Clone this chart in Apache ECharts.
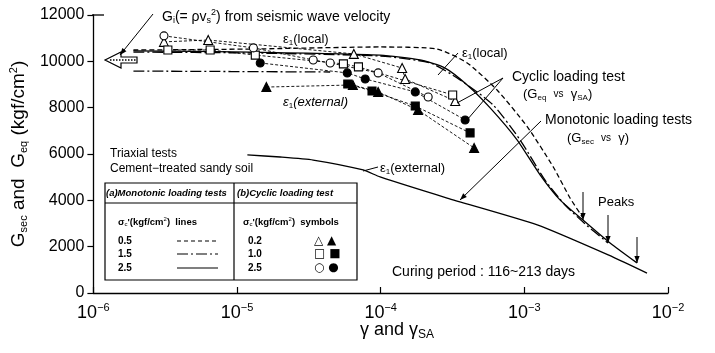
<!DOCTYPE html>
<html>
<head>
<meta charset="utf-8">
<script src="https://cdn.jsdelivr.net/npm/echarts@6/dist/echarts.min.js"></script>
<style>
html, body { margin: 0; background: #fff; }
#chart { width: 715px; height: 353px; }
</style>
</head>
<body>
<div id="chart"></div>
<script>
// monotonic loading tests, local strain (G_sec vs gamma), one per confining pressure
const monoLocal05 = [[1.9e-6, 10490], [1.24e-5, 10530], [9.9e-5, 10620], [2.47e-4, 10530], [4.0e-4, 9930], [6.46e-4, 8760], [1.05e-3, 7170], [1.59e-3, 5440], [2.08e-3, 4100], [2.56e-3, 3240]]
const monoLocal15 = [[1.9e-6, 10400], [1.24e-5, 10360], [9.9e-5, 10230], [2.21e-4, 9930], [3.57e-4, 9200], [6.06e-4, 8120], [9.34e-4, 6610], [1.39e-3, 4880], [1.92e-3, 3800], [2.65e-3, 2980], [3.82e-3, 2160]]
const monoLocal25 = [[1.9e-6, 10450], [1.24e-5, 10400], [9.9e-5, 10270], [1.88e-4, 10060], [2.81e-4, 9710], [4.0e-4, 8980], [5.78e-4, 7990], [8.9e-4, 6610], [1.29e-3, 5090], [1.77e-3, 4020], [2.56e-3, 3150], [3.95e-3, 2160], [6.08e-3, 1300]]
// monotonic, external strain
const monoExt15 = [[1.9e-6, 9580], [4.45e-5, 9540]]
const monoExt25 = [[1.18e-5, 5960], [2.0e-5, 5870], [3.39e-5, 5740], [7.55e-5, 5310], [9.9e-5, 5010], [2.9e-4, 4100], [1.23e-3, 2940], [4.15e-3, 1550], [7.14e-3, 860]]

// cyclic loading tests (G_eq vs gamma_SA); open = local, filled = external
const openTri = [[3.1e-6, 10840], [6.3e-6, 10920], [6.5e-5, 10320], [1.41e-4, 9710], [1.48e-4, 9240], [3.3e-4, 8290]]
const openSq = [[3.3e-6, 10490], [6.5e-6, 10490], [1.34e-5, 10270], [5.5e-5, 9890], [7.0e-5, 9760], [3.17e-4, 8550]]
const openCirc = [[3.1e-6, 11100], [1.3e-5, 10580], [3.39e-5, 10060], [4.45e-5, 9930], [9.6e-5, 9500], [2.14e-4, 8460]]
const filledTri = [[1.6e-5, 8890], [6.4e-5, 8980], [9.6e-5, 8680], [1.82e-4, 7900], [4.47e-4, 6260]]
const filledSq = [[5.9e-5, 9020], [8.7e-5, 8720], [1.74e-4, 8070], [4.19e-4, 6910]]
const filledCirc = [[1.45e-5, 9930], [5.85e-5, 9500], [7.8e-5, 9240], [1.74e-4, 8680], [3.87e-4, 7470]]

const legendLines = ['0.5', '1.5', '2.5']
const legendSymbols = ['0.2', '1.0', '2.5']

const FONT = '"Liberation Sans", Arial, sans-serif'
const DASH = [5, 3]
const DASHDOT = [11, 3, 2, 3]

const chart = echarts.init(document.getElementById('chart'))

const rich = (fs) => ({
  s: { fontSize: Math.round(fs * 0.65), padding: [Math.round(fs * 0.55), 0, 0, 0], fontFamily: FONT },
  p: { fontSize: Math.round(fs * 0.65), padding: [0, 0, Math.round(fs * 0.55), 0], fontFamily: FONT },
  v: { fontSize: Math.round(fs * 0.75), fontFamily: FONT }
})

const T = (x, y, text, fs, extra = {}) => ({
  type: 'text', x, y, z: 20,
  style: Object.assign({
    text, fill: '#000', fontFamily: FONT, fontSize: fs,
    verticalAlign: 'middle', align: 'left', rich: rich(fs)
  }, extra)
})

const L = (x1, y1, x2, y2, dash, w = 1) => ({
  type: 'line', z: 20,
  shape: { x1, y1, x2, y2 },
  style: { stroke: '#000', lineWidth: w, lineDash: dash || null }
})

// leader with a small head at (x2, y2)
const arrow = (x1, y1, x2, y2) => {
  const a = Math.atan2(y2 - y1, x2 - x1), len = 7, w = 2.6
  const c = Math.cos(a), s = Math.sin(a)
  return [L(x1, y1, x2, y2), {
    type: 'polygon', z: 20,
    shape: { points: [[x2, y2], [x2 - len * c + w * s, y2 - len * s - w * c], [x2 - len * c - w * s, y2 - len * s + w * c]] },
    style: { fill: '#000' }
  }]
}

const curve = (name, data, type) => ({
  name, type: 'line', data, smooth: 0.2, symbol: 'none', z: 3,
  lineStyle: { color: '#000', width: 1.3, type }
})

const pts = (name, data, symbol, filled) => ({
  name, type: 'line', data, symbol, z: 4,
  symbolSize: symbol === 'triangle' ? 9 : 8,
  lineStyle: { color: '#000', width: 0.9, type: [3, 2] },
  itemStyle: { color: filled ? '#000' : '#fff', borderColor: '#000', borderWidth: 1.1 }
})

const bold = { fontWeight: 'bold' }
const boldIt = { fontWeight: 'bold', fontStyle: 'italic' }
const sym = { fontFamily: '"DejaVu Sans"', fontSize: 12 }

const graphic = [
  // G_i hollow arrow at 10000
  {
    type: 'polygon', z: 20,
    shape: { points: [[105, 60], [121, 52], [121, 57], [137, 57], [137, 63], [121, 63], [121, 68]] },
    style: { fill: '#fff', stroke: '#000', lineWidth: 1.2 }
  },
  L(110, 60, 136, 60, [1.5, 1.5], 1.5),
  ...arrow(153, 14, 120, 55),
  T(162, 17, 'G{s|i}(= ρv{s|s}{p|2}) from seismic wave velocity', 14),
  T(283, 39, 'ε{s|1}(local)', 13),
  T(283, 102, 'ε{s|1}(external)', 13, { fontStyle: 'italic' }),
  T(462, 53, 'ε{s|1}(local)', 13),
  L(458, 53, 438, 75),
  T(512, 77, 'Cyclic loading test', 14),
  T(523, 94, '(G{s|eq}  {v|vs}  γ{s|SA})', 13),
  L(503, 78, 457, 103), L(503, 78, 467, 120),
  T(545, 120, 'Monotonic loading tests', 14),
  T(567, 138, '(G{s|sec}  {v|vs}  γ)', 13),
  ...arrow(541, 121, 460, 200),
  T(380, 168, 'ε{s|1}(external)', 13),
  L(378, 167, 363, 171),
  T(598, 202, 'Peaks', 13),
  ...arrow(583, 192, 583, 220),
  ...arrow(608, 215, 608, 243),
  ...arrow(637, 237, 637, 263),
  T(392, 272, 'Curing period : 116~213 days', 14),
  T(110, 154, 'Triaxial tests', 12),
  T(110, 169, 'Cement−treated sandy soil', 12),
  // legend table
  {
    type: 'rect', z: 15,
    shape: { x: 105, y: 183, width: 252, height: 97 },
    style: { fill: '#fff', stroke: '#000', lineWidth: 1.2 }
  },
  L(105, 203, 357, 203, null, 1.2),
  L(234, 183, 234, 280, null, 1.2),
  T(106, 193, '(a)Monotonic loading tests', 9.5, boldIt),
  T(237, 193, '(b)Cyclic loading test', 9.5, boldIt),
  T(118, 222, 'σ{s|c}\'(kgf/cm{p|2})  lines', 9.5, bold),
  T(243, 222, 'σ{s|c}\'(kgf/cm{p|2})  symbols', 9.5, bold),
  L(177, 241, 218, 241, [4, 3], 1.2),
  L(177, 254, 218, 254, DASHDOT, 1.2),
  L(177, 268, 218, 268, null, 1.2),
  T(314, 241, '△ ▲', 12, sym),
  T(314, 254, '□ ■', 12, sym),
  T(314, 268, '○ ●', 12, sym),
  T(360, 330, 'γ and γ{s|SA}', 18)
]
legendLines.forEach((t, i) => graphic.push(T(118, [241, 254, 268][i], t, 10, bold)))
legendSymbols.forEach((t, i) => graphic.push(T(248, [241, 254, 268][i], t, 10, bold)))
graphic.push(L(92, 15, 104, 15, null, 1.3))

chart.setOption({
  animation: false,
  backgroundColor: '#fff',
  grid: { left: 92, right: 47, top: 15, bottom: 60 },
  xAxis: {
    type: 'log', logBase: 10, min: 1e-6, max: 1e-2,
    axisLine: { lineStyle: { color: '#000', width: 1.3 } },
    axisTick: { inside: true, length: 6, lineStyle: { color: '#000', width: 1.2 } },
    minorTick: { show: false },
    splitLine: { show: false },
    axisLabel: {
      margin: 9, color: '#000',
      formatter: (v) => '{b|10}{e|−' + Math.abs(Math.round(Math.log10(v))) + '}',
      rich: {
        b: { fontSize: 18, fontFamily: FONT, color: '#000' },
        e: { fontSize: 11, fontFamily: FONT, color: '#000', padding: [0, 0, 12, 0] }
      }
    }
  },
  yAxis: {
    type: 'value', min: 0, max: 12000, interval: 2000,
    name: '{t|G}{s|sec}{t| and  G}{s|eq}{t| (kgf/cm}{p|2}{t|)}',
    nameLocation: 'middle', nameRotate: 90, nameGap: 64,
    nameTextStyle: {
      rich: {
        t: { fontSize: 19, fontFamily: FONT, color: '#000' },
        s: { fontSize: 11, fontFamily: FONT, color: '#000', padding: [10, 0, 0, 0] },
        p: { fontSize: 11, fontFamily: FONT, color: '#000', padding: [0, 0, 10, 0] }
      }
    },
    axisLine: { show: true, lineStyle: { color: '#000', width: 1.3 } },
    axisTick: { show: true, length: 6, lineStyle: { color: '#000', width: 1.2 } },
    splitLine: { show: false },
    axisLabel: { margin: 9, color: '#000', fontSize: 16, fontFamily: FONT, formatter: (v) => String(v) }
  },
  series: [
    curve('local 0.5', monoLocal05, DASH),
    curve('local 1.5', monoLocal15, DASHDOT),
    curve('local 2.5', monoLocal25, 'solid'),
    curve('external 1.5', monoExt15, DASHDOT),
    curve('external 2.5', monoExt25, 'solid'),
    pts('0.2 local', openTri, 'triangle', false),
    pts('1.0 local', openSq, 'rect', false),
    pts('2.5 local', openCirc, 'circle', false),
    pts('0.2 external', filledTri, 'triangle', true),
    pts('1.0 external', filledSq, 'rect', true),
    pts('2.5 external', filledCirc, 'circle', true)
  ],
  graphic
})
</script>
</body>
</html>
